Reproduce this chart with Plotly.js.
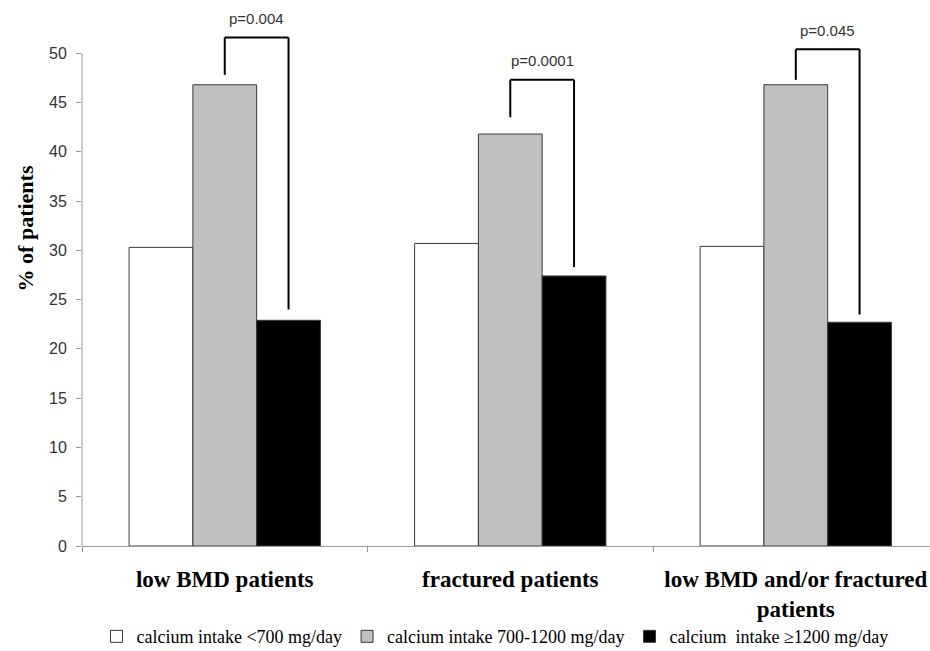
<!DOCTYPE html>
<html>
<head>
<meta charset="utf-8">
<script src="https://cdn.plot.ly/plotly-3.0.1.min.js"></script>
<style>
  html, body { margin: 0; padding: 0; background: #ffffff; overflow: hidden; }
  #chart { width: 930px; height: 651px; }
</style>
</head>
<body>
<div id="chart"></div>
<script>
// ---- data ----
var categories = ["low BMD patients", "fractured patients", "low BMD and/or fractured<br>patients"];
var seriesNames = ["calcium intake <700 mg/day", "calcium intake 700-1200 mg/day", "calcium  intake \u22651200 mg/day"];
var lowIntake = [30.3, 30.7, 30.4];
var midIntake = [46.8, 41.8, 46.8];
var highIntake = [22.9, 27.4, 22.7];
var yTicks = [0, 5, 10, 15, 20, 25, 30, 35, 40, 45, 50];
// significance brackets (between 700-1200 and >=1200 bars)
var pLabels = ["p=0.004", "p=0.0001", "p=0.045"];
var bracketTop = [51.6, 47.3, 50.4];
var bracketLeftEnd = [47.8, 43.5, 47.3];
var bracketRightEnd = [24.0, 28.3, 23.5];

// ---- styling ----
var serif = "Liberation Serif, Times New Roman, serif";
var sans = "Liberation Sans, Arial, sans-serif";
var barGap = 0.33;
var barW = (1 - barGap) / 3;
var outline = {color: "#3a3a3a", width: 1};

var traces = [
  {type: "bar", name: seriesNames[0], x: categories, y: lowIntake,
   marker: {color: "#ffffff", line: outline}, hoverinfo: "y"},
  {type: "bar", name: seriesNames[1], x: categories, y: midIntake,
   marker: {color: "#c0c0c0", line: outline}, hoverinfo: "y"},
  {type: "bar", name: seriesNames[2], x: categories, y: highIntake,
   marker: {color: "#000000", line: outline}, hoverinfo: "y"}
];

var shapes = [];
var annotations = [];
// y axis line only up to the last tick
shapes.push({type: "line", xref: "paper", yref: "y", x0: 0, x1: 0,
  y0: yTicks[0], y1: yTicks[yTicks.length - 1], line: {color: "#9a9a9a", width: 1}});

for (var i = 0; i < categories.length; i++) {
  var xl = i;            // centre of middle (700-1200) bar (category serial number)
  var xr = i + barW;     // centre of right (>=1200) bar
  var bl = {color: "#000000", width: 2};
  shapes.push({type: "line", xref: "x", yref: "y", x0: xl, x1: xl, y0: bracketLeftEnd[i], y1: bracketTop[i], line: bl});
  shapes.push({type: "line", xref: "x", yref: "y", x0: xl, x1: xr, y0: bracketTop[i], y1: bracketTop[i], line: bl});
  shapes.push({type: "line", xref: "x", yref: "y", x0: xr, x1: xr, y0: bracketTop[i], y1: bracketRightEnd[i], line: bl});
  annotations.push({xref: "x", yref: "y", x: (xl + xr) / 2, y: bracketTop[i],
    text: pLabels[i], showarrow: false, yanchor: "middle", yshift: 19,
    font: {family: sans, size: 15, color: "#333333"}});
}

annotations.push({xref: "paper", yref: "paper", x: -0.067, y: 0.582,
  text: "<b>% of patients</b>", textangle: -90, showarrow: false,
  xanchor: "center", yanchor: "middle",
  font: {family: serif, size: 22, color: "#000000"}});

var layout = {
  width: 930, height: 651,
  margin: {l: 82, r: 0, t: 0, b: 105, pad: 0, autoexpand: false},
  paper_bgcolor: "#ffffff", plot_bgcolor: "#ffffff",
  barmode: "group", bargap: barGap, bargroupgap: 0,
  showlegend: true,
  legend: {orientation: "h", x: 0.487, xanchor: "center", y: -0.166, yanchor: "middle",
    bgcolor: "rgba(0,0,0,0)",
    font: {family: serif, size: 18, color: "#000000"}, itemwidth: 30, traceorder: "normal"},
  xaxis: {
    type: "category",
    range: [-0.5, 2.47],
    tickson: "boundaries", ticks: "outside", ticklen: 5, tickcolor: "#9a9a9a",
    showline: true, linecolor: "#9a9a9a", linewidth: 1,
    showgrid: false, zeroline: false,
    ticklabelstandoff: 12,
    tickfont: {family: serif, size: 23, color: "#000000", weight: "bold"},
    fixedrange: true
  },
  yaxis: {
    range: [0, 55.4],
    tickmode: "array", tickvals: yTicks, ticktext: yTicks.map(String),
    ticks: "outside", ticklen: 5, tickcolor: "#9a9a9a",
    showline: false, showgrid: false, zeroline: false,
    ticklabelstandoff: 6,
    tickfont: {family: sans, size: 16, color: "#333333"},
    fixedrange: true
  },
  shapes: shapes,
  annotations: annotations
};

Plotly.newPlot("chart", traces, layout, {displayModeBar: false, staticPlot: true});
</script>
</body>
</html>
